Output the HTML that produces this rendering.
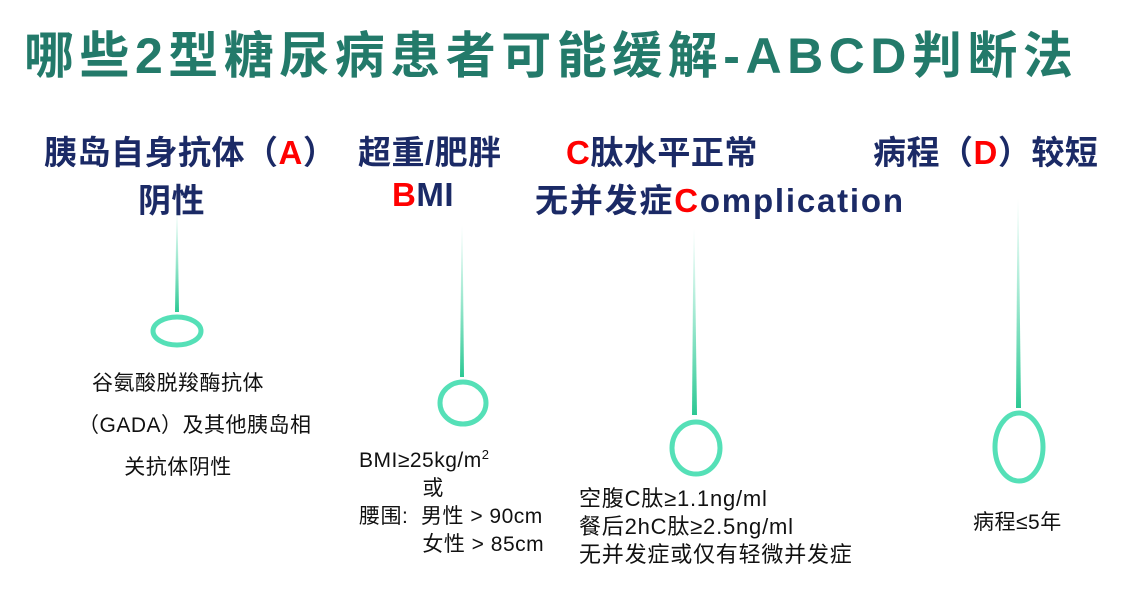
<!DOCTYPE html>
<html><head><meta charset="utf-8"><style>
body{margin:0;width:1145px;height:596px;background:#fff;position:relative;overflow:hidden;font-family:"Liberation Sans","Noto Sans CJK SC",sans-serif}
.a{position:absolute;white-space:nowrap}
.t{left:24px;top:16px;font-size:50px;font-weight:bold;color:#237a6a;letter-spacing:5.5px}
.h{font-size:33px;font-weight:bold;color:#1b2a66;letter-spacing:0.5px}
.r{color:#f00}
.b{font-size:21px;color:#111;line-height:29px;letter-spacing:0.5px}
</style></head><body>
<div class="a t">哪些2型糖尿病患者可能缓解-ABCD判断法</div>
<div class="a h" style="left:44px;top:126px">胰岛自身抗体（<span class="r">A</span>）</div>
<div class="a h" style="left:138px;top:174px">阴性</div>
<div class="a h" style="left:358px;top:126px">超重/肥胖</div>
<div class="a h" style="left:392px;top:176px"><span class="r">B</span>MI</div>
<div class="a h" style="left:566px;top:126px"><span class="r">C</span>肽水平正常</div>
<div class="a h" style="left:535px;top:174px;letter-spacing:1.8px">无并发症<span class="r">C</span>omplication</div>
<div class="a h" style="left:873px;top:126px">病程（<span class="r">D</span>）较短</div>
<svg class="a" style="left:0;top:0" width="1145" height="596">
<defs><linearGradient id="g" x1="0" y1="0" x2="0" y2="1"><stop offset="0" stop-color="#3fd6a6" stop-opacity="0"/><stop offset="1" stop-color="#2cc893"/></linearGradient></defs>
<polygon points="176.5,210 177.5,210 179,312 175,312" fill="url(#g)"/>
<polygon points="461.5,225 462.5,225 464,377 460,377" fill="url(#g)"/>
<polygon points="693.5,228 694.5,228 697,415 692,415" fill="url(#g)"/>
<polygon points="1017.5,198 1018.5,198 1021,408 1016,408" fill="url(#g)"/>
<g fill="none" stroke="#55e0b7" stroke-width="5">
<ellipse cx="177" cy="331" rx="24" ry="14"/>
<ellipse cx="463" cy="403" rx="23" ry="21"/>
<ellipse cx="696" cy="448" rx="24" ry="26"/>
<ellipse cx="1019" cy="447" rx="24" ry="34"/>
</g></svg>
<div class="a b" style="left:78px;top:363px;width:200px;text-align:center;line-height:42px;font-size:21px">谷氨酸脱羧酶抗体<br>（GADA）及其他胰岛相<br>关抗体阴性</div>
<div class="a b" style="left:359px;top:441px;line-height:28px">BMI≥25kg/m<sup style="font-size:13px">2</sup><br>&nbsp;&nbsp;&nbsp;&nbsp;&nbsp;&nbsp;&nbsp;&nbsp;&nbsp;&nbsp;或<br>腰围:&nbsp; 男性 &gt; 90cm<br>&nbsp;&nbsp;&nbsp;&nbsp;&nbsp;&nbsp;&nbsp;&nbsp;&nbsp;&nbsp;女性 &gt; 85cm</div>
<div class="a b" style="left:579px;top:485px;line-height:28px;font-size:22px;letter-spacing:0.8px">空腹C肽≥1.1ng/ml<br>餐后2hC肽≥2.5ng/ml<br>无并发症或仅有轻微并发症</div>
<div class="a b" style="left:973px;top:508px;font-size:21px">病程≤5年</div>
</body></html>
